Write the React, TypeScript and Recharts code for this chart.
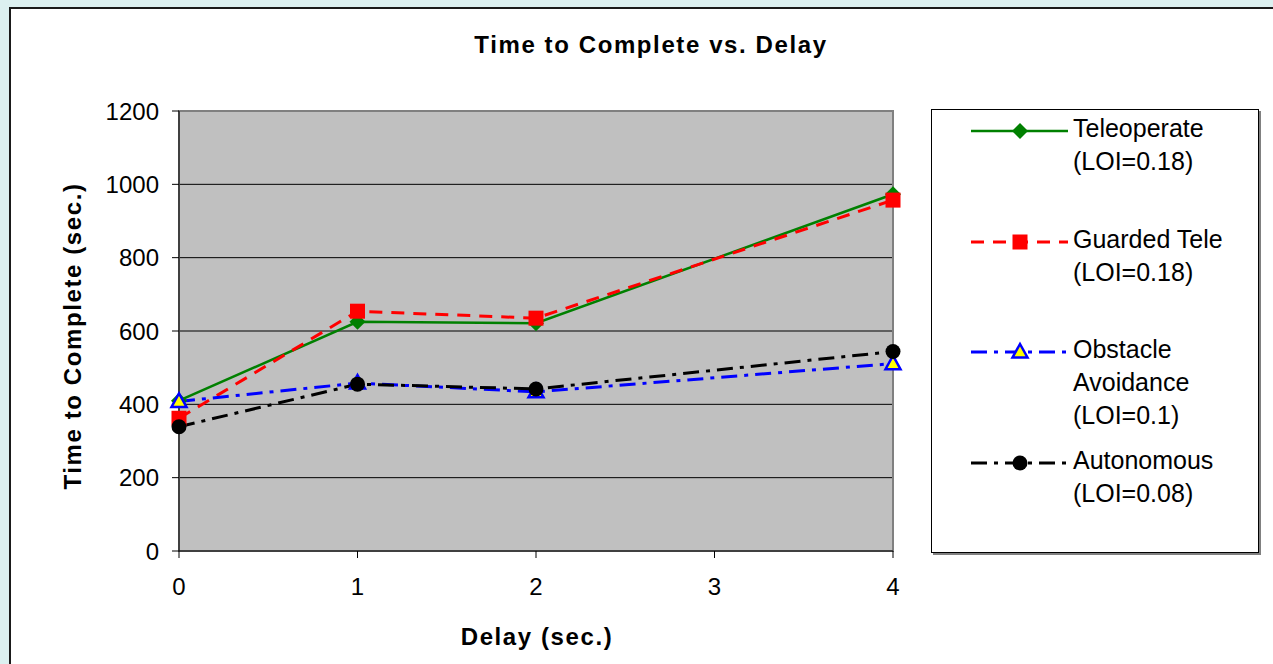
import React from "react";
import {
  LineChart,
  Line,
  XAxis,
  YAxis,
  CartesianGrid,
  ReferenceArea,
} from "recharts";

const delays = [0, 1, 2, 4];
const teleoperate = [410, 625, 621, 973];
const guardedTele = [362, 654, 635, 957];
const obstacleAvoidance = [408, 458, 434, 511];
const autonomous = [339, 455, 442, 544];

const xTicks = [0, 1, 2, 3, 4];
const yTicks = [0, 200, 400, 600, 800, 1000, 1200];

const seriesNames = [
  ["Teleoperate", "(LOI=0.18)"],
  ["Guarded Tele", "(LOI=0.18)"],
  ["Obstacle", "Avoidance", "(LOI=0.1)"],
  ["Autonomous", "(LOI=0.08)"],
];

const data = delays.map((d, i) => ({
  delay: d,
  tele: teleoperate[i],
  guarded: guardedTele[i],
  obstacle: obstacleAvoidance[i],
  auto: autonomous[i],
}));

const FONT = '"Liberation Sans", Arial, sans-serif';

type Kind = "diamond" | "square" | "triangle" | "circle";

const SERIES = [
  { key: "tele", color: "#008000", dash: undefined, kind: "diamond" as Kind, width: 2.5 },
  { key: "guarded", color: "#ff0000", dash: "13 9", kind: "square" as Kind, width: 3 },
  { key: "obstacle", color: "#0000ff", dash: "16 7 4 7", kind: "triangle" as Kind, width: 3 },
  { key: "auto", color: "#000000", dash: "16 7 4 7", kind: "circle" as Kind, width: 3 },
];

function Marker({ kind, cx, cy, color }: { kind: Kind; cx: number; cy: number; color: string }) {
  if (kind === "diamond")
    return <polygon points={`${cx},${cy - 8} ${cx + 8},${cy} ${cx},${cy + 8} ${cx - 8},${cy}`} fill={color} />;
  if (kind === "square") return <rect x={cx - 7.5} y={cy - 7.5} width={15} height={15} fill={color} />;
  if (kind === "triangle")
    return (
      <polygon
        points={`${cx},${cy - 8} ${cx + 7.5},${cy + 5.5} ${cx - 7.5},${cy + 5.5}`}
        fill="#ffff00"
        stroke="#0000ff"
        strokeWidth={2.5}
      />
    );
  return <circle cx={cx} cy={cy} r={7.5} fill={color} />;
}

// legend box drawn by hand, like the Excel one
function ChartLegend() {
  const tops = [0, 111, 221, 332];
  return (
    <div
      style={{
        position: "absolute",
        left: 931,
        top: 109,
        width: 326,
        height: 442,
        background: "#fff",
        border: "1px solid #000",
        boxShadow: "2px 2px 0 #808080",
        fontFamily: FONT,
        fontSize: 25,
        color: "#000",
      }}
    >
      {SERIES.map((s, i) => (
        <div key={s.key} style={{ position: "absolute", left: 0, top: 2 + tops[i], width: 326 }}>
          <svg width={100} height={30} style={{ position: "absolute", left: 39, top: 4 }}>
            <line x1={0} y1={15} x2={97} y2={15} stroke={s.color} strokeWidth={s.width} strokeDasharray={s.dash} />
            <Marker kind={s.kind} cx={49} cy={15} color={s.color} />
          </svg>
          <div style={{ position: "absolute", left: 141, top: 0, lineHeight: "33px" }}>
            {seriesNames[i].map((t) => (
              <div key={t}>{t}</div>
            ))}
          </div>
        </div>
      ))}
    </div>
  );
}

const boldLabel: React.CSSProperties = {
  position: "absolute",
  fontFamily: FONT,
  fontWeight: "bold",
  fontSize: 24,
  letterSpacing: 1.6,
  color: "#000",
  whiteSpace: "nowrap",
};

export default function App() {
  return (
    <div
      style={{
        position: "absolute",
        left: 0,
        top: 0,
        width: 1273,
        height: 664,
        overflow: "hidden",
        background: "#dcf0f0",
      }}
    >
      <div
        style={{
          position: "absolute",
          left: 9,
          top: 7,
          width: 1300,
          height: 700,
          background: "#fff",
          borderLeft: "2px solid #1a1a1a",
          borderTop: "2px solid #1a1a1a",
        }}
      />
      <div style={{ ...boldLabel, left: 351, width: 600, top: 31, textAlign: "center" }}>
        Time to Complete vs. Delay
      </div>
      <div
        style={{
          ...boldLabel,
          left: 73,
          top: 336,
          transform: "translate(-50%, -50%) rotate(-90deg)",
        }}
      >
        Time to Complete (sec.)
      </div>
      <div style={{ ...boldLabel, left: 537, top: 637, transform: "translate(-50%, -50%)" }}>
        Delay (sec.)
      </div>
      <div style={{ position: "absolute", left: 0, top: 0 }}>
        <LineChart
          width={1273}
          height={664}
          data={data}
          margin={{ top: 111, right: 380, left: 119, bottom: 83 }}
        >
          <CartesianGrid vertical={false} stroke="#000" fill="#c0c0c0" fillOpacity={1} />
          <ReferenceArea x1={0} x2={4} y1={0} y2={1200} fill="none" stroke="#808080" strokeWidth={2} />
          <XAxis
            dataKey="delay"
            type="number"
            domain={[0, 4]}
            ticks={xTicks}
            interval={0}
            height={30}
            stroke="#000"
            tickSize={7}
            tickMargin={20}
            tick={{ fill: "#000", fontSize: 24, fontFamily: FONT }}
          />
          <YAxis
            type="number"
            domain={[0, 1200]}
            ticks={yTicks}
            interval={0}
            width={60}
            stroke="#000"
            tickSize={7}
            tickMargin={13}
            tick={{ fill: "#000", fontSize: 24, fontFamily: FONT }}
          />
          {SERIES.map((s) => (
            <Line
              key={s.key}
              dataKey={s.key}
              type="linear"
              stroke={s.color}
              strokeWidth={s.width}
              strokeDasharray={s.dash}
              isAnimationActive={false}
              dot={(p: any) => <Marker key={`${s.key}-${p.index}`} kind={s.kind} cx={p.cx} cy={p.cy} color={s.color} />}
              activeDot={false}
            />
          ))}
        </LineChart>
      </div>
      <ChartLegend />
    </div>
  );
}
